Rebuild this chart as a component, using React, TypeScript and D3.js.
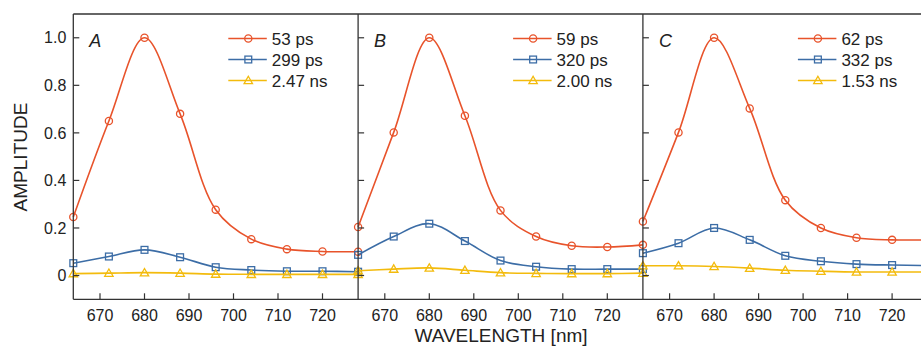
import React from "react";
import * as d3 from "d3";

const wavelengths = [664, 672, 680, 688, 696, 704, 712, 720, 728];
const xTicks = [670, 680, 690, 700, 710, 720];
const yTicks = [0, 0.2, 0.4, 0.6, 0.8, 1.0];
const yTickLabels = ["0", "0.2", "0.4", "0.6", "0.8", "1.0"];
const panelLabels = ["A", "B", "C"];

const redA = [0.246, 0.65, 1.0, 0.68, 0.277, 0.153, 0.111, 0.101, 0.1];
const blueA = [0.052, 0.08, 0.108, 0.077, 0.035, 0.023, 0.018, 0.018, 0.016];
const yellowA = [0.008, 0.01, 0.012, 0.01, 0.006, 0.005, 0.005, 0.005, 0.005];

const redB = [0.204, 0.602, 1.0, 0.672, 0.274, 0.164, 0.125, 0.12, 0.129];
const blueB = [0.087, 0.164, 0.218, 0.145, 0.063, 0.037, 0.027, 0.027, 0.027];
const yellowB = [0.02, 0.027, 0.032, 0.022, 0.012, 0.009, 0.008, 0.008, 0.01];

const redC = [0.227, 0.602, 1.0, 0.703, 0.317, 0.2, 0.159, 0.15, 0.15];
const blueC = [0.094, 0.136, 0.2, 0.15, 0.083, 0.06, 0.048, 0.044, 0.042];
const yellowC = [0.041, 0.041, 0.038, 0.031, 0.022, 0.018, 0.015, 0.015, 0.015];

const legendA = ["53 ps", "299 ps", "2.47 ns"];
const legendB = ["59 ps", "320 ps", "2.00 ns"];
const legendC = ["62 ps", "332 ps", "1.53 ns"];

const colors = ["#E8532B", "#3C6DA6", "#F3BB0D"];
const markers = ["circle", "square", "triangle"];

const panels = [
  { label: panelLabels[0], series: [redA, blueA, yellowA], legend: legendA },
  { label: panelLabels[1], series: [redB, blueB, yellowB], legend: legendB },
  { label: panelLabels[2], series: [redC, blueC, yellowC], legend: legendC },
];

const W = 921;
const H = 347;
const left0 = 73.3;
const panelW = 284.8;
const top = 14;
const bottom = 299.3;
const axisColor = "#333";
const textColor = "#222";
const font = "'Liberation Sans', Arial, sans-serif";

function Marker({ type, x, y, color }: { type: string; x: number; y: number; color: string }) {
  const sw = 1.3;
  if (type === "circle") {
    return <circle cx={x} cy={y} r={3.6} fill="none" stroke={color} strokeWidth={sw} />;
  }
  if (type === "square") {
    return <rect x={x - 3.4} y={y - 3.4} width={6.8} height={6.8} fill="none" stroke={color} strokeWidth={sw} />;
  }
  const s = 4.2;
  const pts = `${x},${y - s} ${x + s},${y + s * 0.75} ${x - s},${y + s * 0.75}`;
  return <polygon points={pts} fill="none" stroke={color} strokeWidth={sw} />;
}

export default function App() {
  const y = d3.scaleLinear().domain([-0.1, 1.1]).range([bottom, top]);

  return (
    <svg
      width={W}
      height={H}
      viewBox={`0 0 ${W} ${H}`}
      style={{ position: "absolute", left: 0, top: 0, background: "#fff" }}
      fontFamily={font}
    >
      <rect x={0} y={0} width={W} height={H} fill="#fff" />
      {panels.map((p, pi) => {
        const px = left0 + pi * panelW;
        const x = d3.scaleLinear().domain([664, 728]).range([px, px + panelW]);
        const line = d3
          .line<number>()
          .x((_, i) => x(wavelengths[i]))
          .y((d) => y(d))
          .curve(d3.curveCatmullRom.alpha(0.5));
        return (
          <g key={pi}>
            {p.series.map((s, si) => (
              <g key={si}>
                <path d={line(s) || ""} fill="none" stroke={colors[si]} strokeWidth={1.6} />
                {s.map((v, i) => (
                  <Marker key={i} type={markers[si]} x={x(wavelengths[i])} y={y(v)} color={colors[si]} />
                ))}
              </g>
            ))}
            {p.legend.map((t, li) => {
              const ly = 38.5 + li * 21;
              return (
                <g key={li}>
                  <line x1={px + 155} x2={px + 193.5} y1={ly} y2={ly} stroke={colors[li]} strokeWidth={1.6} />
                  <Marker type={markers[li]} x={px + 175} y={ly} color={colors[li]} />
                  <text x={px + 198.5} y={ly + 6} fontSize={17} fill={textColor}>
                    {t}
                  </text>
                </g>
              );
            })}
            <text x={px + 16} y={46.5} fontSize={18} fontStyle="italic" fill={textColor}>
              {p.label}
            </text>
            {yTicks.map((t, ti) => (
              <line key={ti} x1={px} x2={px + 6} y1={y(t)} y2={y(t)} stroke={axisColor} strokeWidth={1.2} />
            ))}
            {xTicks.map((t, ti) => (
              <g key={ti}>
                <line x1={x(t)} x2={x(t)} y1={bottom} y2={bottom - 6} stroke={axisColor} strokeWidth={1.2} />
                <text x={x(t)} y={321} fontSize={16} textAnchor="middle" fill={textColor}>
                  {t}
                </text>
              </g>
            ))}
            <line x1={px} x2={px} y1={top} y2={bottom} stroke={axisColor} strokeWidth={1.3} />
          </g>
        );
      })}
      <line x1={left0} x2={W} y1={top} y2={top} stroke={axisColor} strokeWidth={1.3} />
      <line x1={left0} x2={W} y1={bottom} y2={bottom} stroke={axisColor} strokeWidth={1.3} />
      {yTicks.map((t, ti) => (
        <text key={ti} x={left0 - 7} y={y(t) + 5.7} fontSize={16} textAnchor="end" fill={textColor}>
          {yTickLabels[ti]}
        </text>
      ))}
      <text transform={`translate(27,157) rotate(-90)`} fontSize={19} textAnchor="middle" fill={textColor}>
        AMPLITUDE
      </text>
      <text x={501} y={342} fontSize={19} textAnchor="middle" fill={textColor}>
        WAVELENGTH [nm]
      </text>
    </svg>
  );
}
